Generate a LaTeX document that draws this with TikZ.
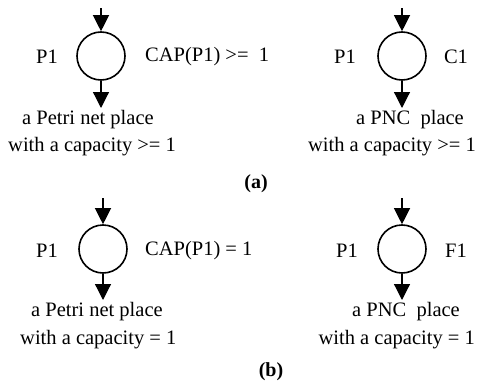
\documentclass[tikz,border=0pt]{standalone}
\usepackage{fontspec}
\setmainfont{Liberation Serif}
\usetikzlibrary{arrows.meta}
\begin{document}
\begin{tikzpicture}[x=1pt,y=-1pt,
  lbl/.style={font=\fontsize{20.5}{24}\selectfont, inner sep=0pt},
  figcaption/.style={font=\fontsize{20}{24}\selectfont\bfseries, inner sep=0pt},
  place/.style={circle, draw, line width=1.6pt, minimum size=48pt, inner sep=0pt},
  arr/.style={line width=1.2pt, -{Triangle[length=16pt,width=16pt]}}]
\useasboundingbox (0,0) rectangle (477,388);
% (a) left
\node[place] (pa1) at (101,56) {};
\coordinate (ia1) at (101,8);
\coordinate (oa1) at (101,108);
\draw[arr] (ia1) -- (pa1.north);
\draw[arr] (pa1.south) -- (oa1);
\node[lbl] (pla1) at (47,57) {P1};
\node[lbl,anchor=west] (capa1) at (145,57) {CAP(P1) >=\ \ 1};
\node[lbl,anchor=west] (ta1) at (22,120) {a Petri net place};
\node[lbl,anchor=west] (ua1) at (8,147) {with a capacity >= 1};
% (a) right
\node[place] (pa2) at (402,56) {};
\coordinate (ia2) at (402,8);
\coordinate (oa2) at (402,108);
\draw[arr] (ia2) -- (pa2.north);
\draw[arr] (pa2.south) -- (oa2);
\node[lbl] (pla2) at (345,57) {P1};
\node[lbl] (ca2) at (456,57) {C1};
\node[lbl,anchor=west] (ta2) at (356,120) {a PNC\ \ place};
\node[lbl,anchor=east] (ua2) at (476,147) {with a capacity >= 1};
\node[figcaption] (la) at (256,184) {(a)};
% (b) left
\node[place] (pb1) at (103,249) {};
\coordinate (ib1) at (103,198);
\coordinate (ob1) at (103,300);
\draw[arr] (ib1) -- (pb1.north);
\draw[arr] (pb1.south) -- (ob1);
\node[lbl] (plb1) at (47,251) {P1};
\node[lbl,anchor=west] (capb1) at (145,251) {CAP(P1) = 1};
\node[lbl,anchor=west] (tb1) at (31,312) {a Petri net place};
\node[lbl,anchor=west] (ub1) at (20,340) {with a capacity = 1};
% (b) right
\node[place] (pb2) at (402,249) {};
\coordinate (ib2) at (402,198);
\coordinate (ob2) at (402,300);
\draw[arr] (ib2) -- (pb2.north);
\draw[arr] (pb2.south) -- (ob2);
\node[lbl] (plb2) at (347,251) {P1};
\node[lbl] (fb2) at (456,251) {F1};
\node[lbl,anchor=west] (tb2) at (352,312) {a PNC\ \ place};
\node[lbl,anchor=east] (ub2) at (475,340) {with a capacity = 1};
\node[figcaption] (lb) at (271,372) {(b)};
\end{tikzpicture}
\end{document}
